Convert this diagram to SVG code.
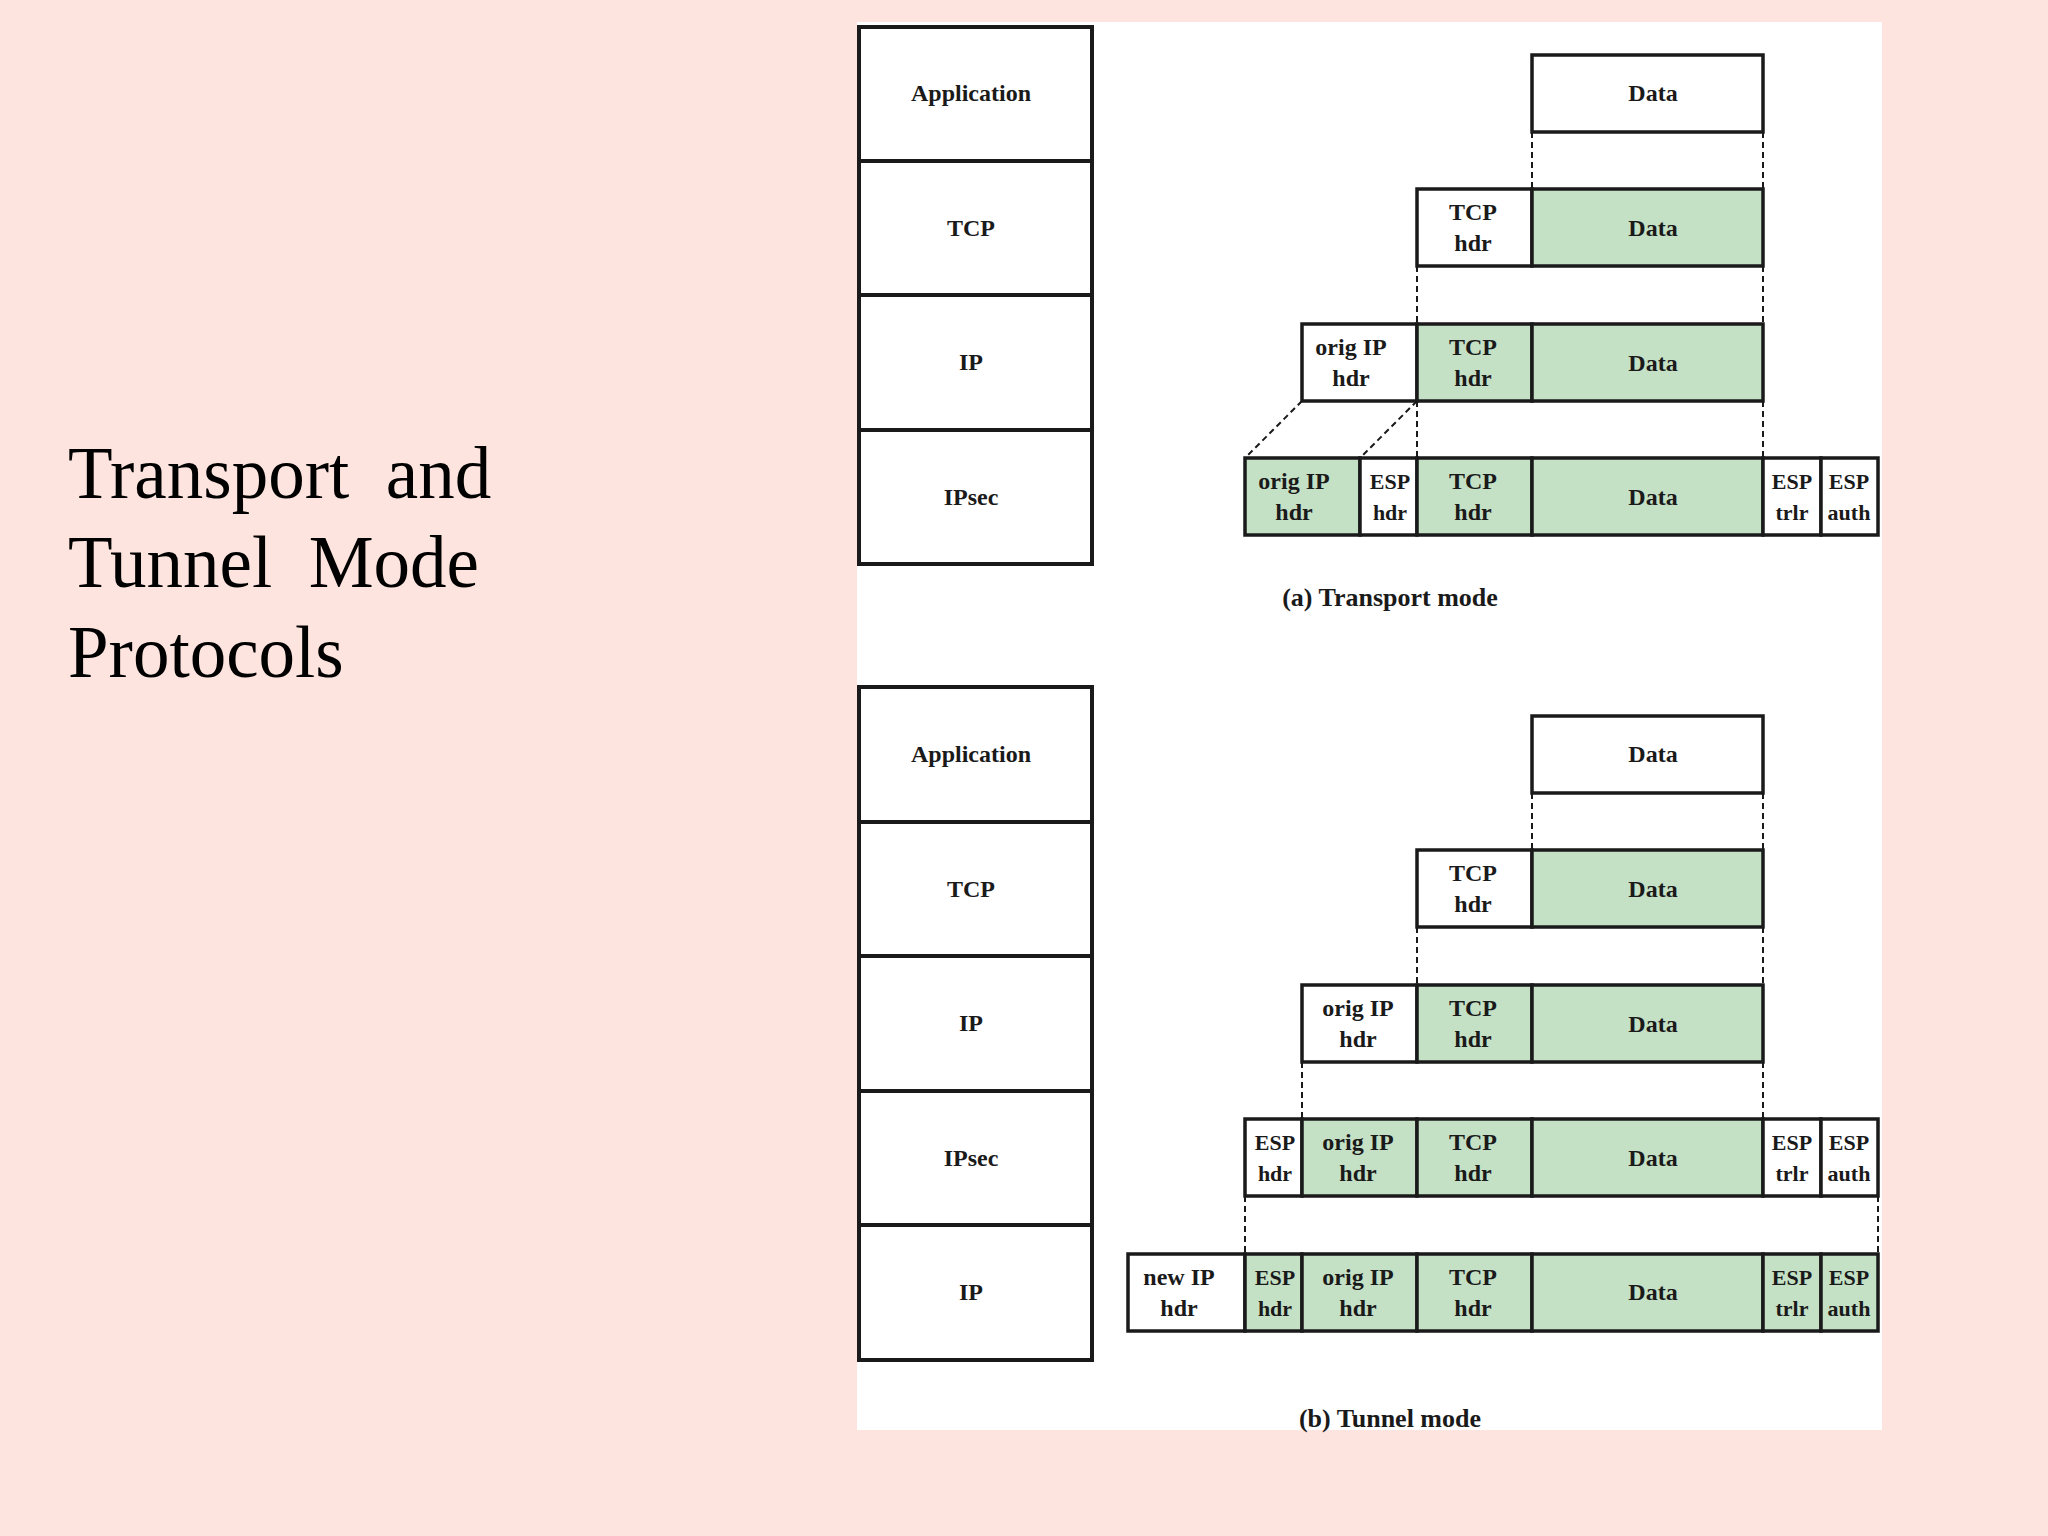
<svg xmlns="http://www.w3.org/2000/svg" width="2048" height="1536" viewBox="0 0 2048 1536">
<style>
.bg{fill:#fde4de}
.panel{fill:#ffffff}
.stk{fill:#ffffff;stroke:#1a1a1a;stroke-width:4}
.w{fill:#ffffff;stroke:#1a1a1a;stroke-width:3.5}
.g{fill:#c5e1c5;stroke:#1a1a1a;stroke-width:3.5}
.d{stroke:#1a1a1a;stroke-width:2;stroke-dasharray:6,4;fill:none}
.t{font-family:"Liberation Serif","Times New Roman",serif;font-weight:bold;font-size:24px;fill:#1a1a1a;text-anchor:middle}
.n{font-size:22px}
.cap{font-family:"Liberation Serif","Times New Roman",serif;font-weight:bold;font-size:26px;fill:#1a1a1a;text-anchor:middle}
.title{font-family:"Liberation Serif","Times New Roman",serif;font-size:73px;fill:#000000}
</style>
<rect class="bg" x="0" y="0" width="2048" height="1536"/>
<rect class="panel" x="857" y="22" width="1025" height="1408"/>
<g id="title">
<text class="title" x="68" y="498" xml:space="preserve">Transport  and</text>
<text class="title" x="68" y="587" xml:space="preserve">Tunnel  Mode</text>
<text class="title" x="68" y="677">Protocols</text>
</g>
<g id="a-stack">
<rect class="stk" x="859" y="27" width="233" height="134"/>
<rect class="stk" x="859" y="161" width="233" height="134"/>
<rect class="stk" x="859" y="295" width="233" height="135"/>
<rect class="stk" x="859" y="430" width="233" height="134"/>
<text class="t" x="971" y="101">Application</text>
<text class="t" x="971" y="236">TCP</text>
<text class="t" x="971" y="370">IP</text>
<text class="t" x="971" y="505">IPsec</text>
</g>
<g id="connectors">
<line class="d" x1="1532" y1="132" x2="1532" y2="189"/>
<line class="d" x1="1763" y1="132" x2="1763" y2="189"/>
<line class="d" x1="1417" y1="266" x2="1417" y2="324"/>
<line class="d" x1="1763" y1="266" x2="1763" y2="324"/>
<line class="d" x1="1302" y1="401" x2="1245" y2="458"/>
<line class="d" x1="1417" y1="401" x2="1360" y2="458"/>
<line class="d" x1="1417" y1="401" x2="1417" y2="458"/>
<line class="d" x1="1763" y1="401" x2="1763" y2="458"/>
<line class="d" x1="1532" y1="793" x2="1532" y2="850"/>
<line class="d" x1="1763" y1="793" x2="1763" y2="850"/>
<line class="d" x1="1417" y1="927" x2="1417" y2="985"/>
<line class="d" x1="1763" y1="927" x2="1763" y2="985"/>
<line class="d" x1="1302" y1="1062" x2="1302" y2="1119"/>
<line class="d" x1="1763" y1="1062" x2="1763" y2="1119"/>
<line class="d" x1="1245" y1="1196" x2="1245" y2="1254"/>
<line class="d" x1="1878" y1="1196" x2="1878" y2="1254"/>
</g>
<g id="a-app">
<rect class="w" x="1532" y="55" width="231" height="77"/>
<text class="t" x="1653" y="101">Data</text>
</g>
<g id="a-tcp">
<rect class="w" x="1417" y="189" width="115" height="77"/>
<rect class="g" x="1532" y="189" width="231" height="77"/>
<text class="t" x="1473" y="220">TCP</text>
<text class="t" x="1473" y="251">hdr</text>
<text class="t" x="1653" y="236">Data</text>
</g>
<g id="a-ip">
<rect class="w" x="1302" y="324" width="115" height="77"/>
<rect class="g" x="1417" y="324" width="115" height="77"/>
<rect class="g" x="1532" y="324" width="231" height="77"/>
<text class="t" x="1351" y="355">orig IP</text>
<text class="t" x="1351" y="386">hdr</text>
<text class="t" x="1473" y="355">TCP</text>
<text class="t" x="1473" y="386">hdr</text>
<text class="t" x="1653" y="371">Data</text>
</g>
<g id="a-ipsec">
<rect class="g" x="1245" y="458" width="115" height="77"/>
<rect class="w" x="1360" y="458" width="57" height="77"/>
<rect class="g" x="1417" y="458" width="115" height="77"/>
<rect class="g" x="1532" y="458" width="231" height="77"/>
<rect class="w" x="1763" y="458" width="58" height="77"/>
<rect class="w" x="1821" y="458" width="57" height="77"/>
<text class="t" x="1294" y="489">orig IP</text>
<text class="t" x="1294" y="520">hdr</text>
<text class="t n" x="1390" y="489">ESP</text>
<text class="t n" x="1390" y="520">hdr</text>
<text class="t" x="1473" y="489">TCP</text>
<text class="t" x="1473" y="520">hdr</text>
<text class="t" x="1653" y="505">Data</text>
<text class="t n" x="1792" y="489">ESP</text>
<text class="t n" x="1792" y="520">trlr</text>
<text class="t n" x="1849" y="489">ESP</text>
<text class="t n" x="1849" y="520">auth</text>
</g>
<text class="cap" x="1390" y="606">(a) Transport mode</text>
<g id="b-stack">
<rect class="stk" x="859" y="687" width="233" height="135"/>
<rect class="stk" x="859" y="822" width="233" height="134"/>
<rect class="stk" x="859" y="956" width="233" height="135"/>
<rect class="stk" x="859" y="1091" width="233" height="134"/>
<rect class="stk" x="859" y="1225" width="233" height="135"/>
<text class="t" x="971" y="762">Application</text>
<text class="t" x="971" y="897">TCP</text>
<text class="t" x="971" y="1031">IP</text>
<text class="t" x="971" y="1166">IPsec</text>
<text class="t" x="971" y="1300">IP</text>
</g>
<g id="b-app">
<rect class="w" x="1532" y="716" width="231" height="77"/>
<text class="t" x="1653" y="762">Data</text>
</g>
<g id="b-tcp">
<rect class="w" x="1417" y="850" width="115" height="77"/>
<rect class="g" x="1532" y="850" width="231" height="77"/>
<text class="t" x="1473" y="881">TCP</text>
<text class="t" x="1473" y="912">hdr</text>
<text class="t" x="1653" y="897">Data</text>
</g>
<g id="b-ip">
<rect class="w" x="1302" y="985" width="115" height="77"/>
<rect class="g" x="1417" y="985" width="115" height="77"/>
<rect class="g" x="1532" y="985" width="231" height="77"/>
<text class="t" x="1358" y="1016">orig IP</text>
<text class="t" x="1358" y="1047">hdr</text>
<text class="t" x="1473" y="1016">TCP</text>
<text class="t" x="1473" y="1047">hdr</text>
<text class="t" x="1653" y="1032">Data</text>
</g>
<g id="b-ipsec">
<rect class="w" x="1245" y="1119" width="57" height="77"/>
<rect class="g" x="1302" y="1119" width="115" height="77"/>
<rect class="g" x="1417" y="1119" width="115" height="77"/>
<rect class="g" x="1532" y="1119" width="231" height="77"/>
<rect class="w" x="1763" y="1119" width="58" height="77"/>
<rect class="w" x="1821" y="1119" width="57" height="77"/>
<text class="t n" x="1275" y="1150">ESP</text>
<text class="t n" x="1275" y="1181">hdr</text>
<text class="t" x="1358" y="1150">orig IP</text>
<text class="t" x="1358" y="1181">hdr</text>
<text class="t" x="1473" y="1150">TCP</text>
<text class="t" x="1473" y="1181">hdr</text>
<text class="t" x="1653" y="1166">Data</text>
<text class="t n" x="1792" y="1150">ESP</text>
<text class="t n" x="1792" y="1181">trlr</text>
<text class="t n" x="1849" y="1150">ESP</text>
<text class="t n" x="1849" y="1181">auth</text>
</g>
<g id="b-newip">
<rect class="w" x="1128" y="1254" width="117" height="77"/>
<rect class="g" x="1245" y="1254" width="57" height="77"/>
<rect class="g" x="1302" y="1254" width="115" height="77"/>
<rect class="g" x="1417" y="1254" width="115" height="77"/>
<rect class="g" x="1532" y="1254" width="231" height="77"/>
<rect class="g" x="1763" y="1254" width="58" height="77"/>
<rect class="g" x="1821" y="1254" width="57" height="77"/>
<text class="t" x="1179" y="1285">new IP</text>
<text class="t" x="1179" y="1316">hdr</text>
<text class="t n" x="1275" y="1285">ESP</text>
<text class="t n" x="1275" y="1316">hdr</text>
<text class="t" x="1358" y="1285">orig IP</text>
<text class="t" x="1358" y="1316">hdr</text>
<text class="t" x="1473" y="1285">TCP</text>
<text class="t" x="1473" y="1316">hdr</text>
<text class="t" x="1653" y="1300">Data</text>
<text class="t n" x="1792" y="1285">ESP</text>
<text class="t n" x="1792" y="1316">trlr</text>
<text class="t n" x="1849" y="1285">ESP</text>
<text class="t n" x="1849" y="1316">auth</text>
</g>
<text class="cap" x="1390" y="1427">(b) Tunnel mode</text>
</svg>
